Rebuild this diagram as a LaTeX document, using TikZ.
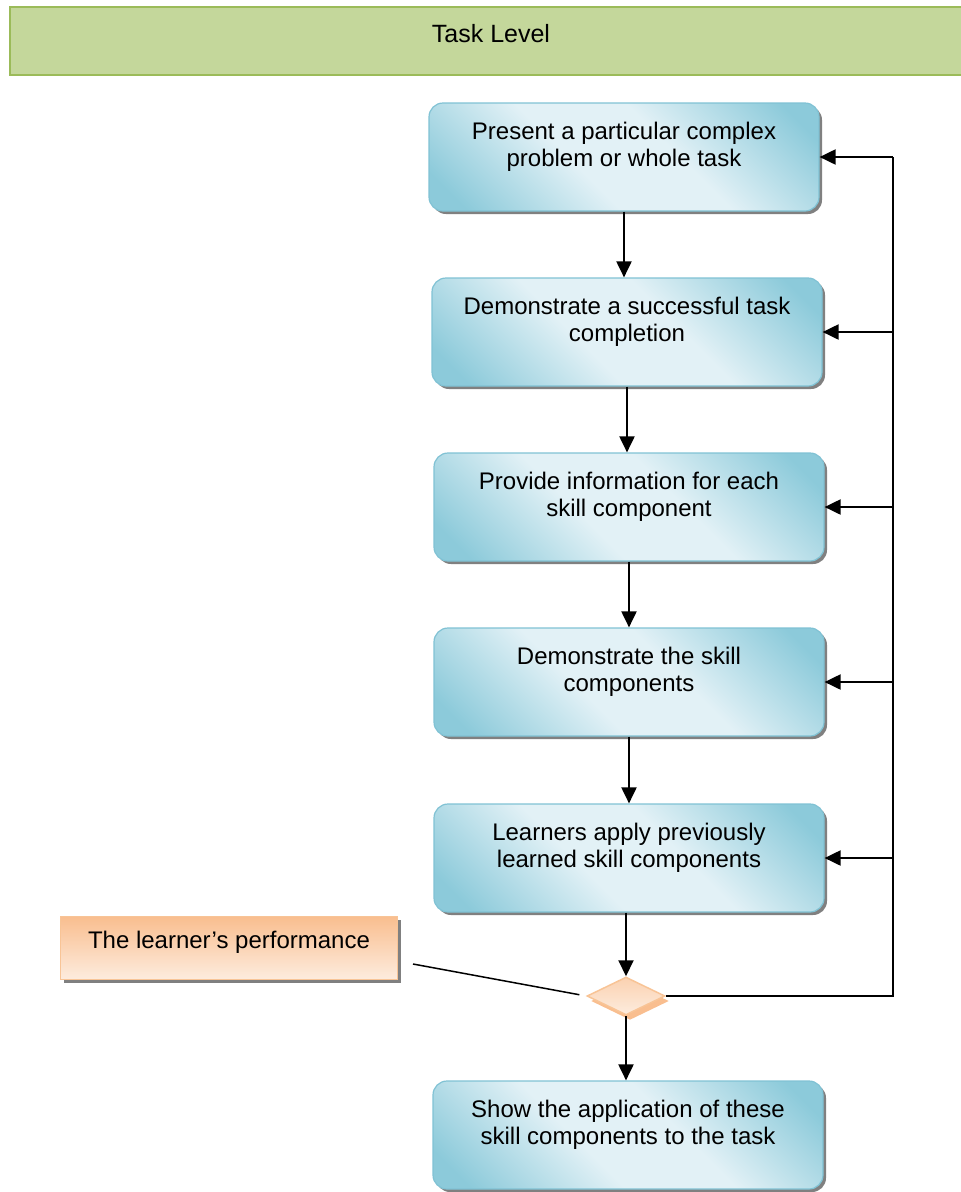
\documentclass[tikz,border=0pt]{standalone}
\usepackage{fontspec}
\setmainfont{Liberation Sans}
\usetikzlibrary{shadows,arrows.meta,shapes.geometric,calc}

\definecolor{bdark}{RGB}{140,202,218}
\definecolor{blight}{RGB}{226,241,246}
\definecolor{bline}{RGB}{128,194,212}
\definecolor{hfill}{RGB}{196,215,155}
\definecolor{hline}{RGB}{155,187,89}
\definecolor{odark}{RGB}{249,190,143}
\definecolor{olight}{RGB}{253,236,222}
\definecolor{oline}{RGB}{248,196,150}

% diagonal band shading for the step boxes: dark corners, light middle
\pgfdeclarehorizontalshading{boxshade}{100bp}{color(0bp)=(bdark); color(20bp)=(bdark);
  color(42bp)=(blight); color(58bp)=(blight); color(80bp)=(bdark); color(100bp)=(bdark)}

\begin{document}
\begin{tikzpicture}[x=1pt,y=-1pt,
  taskbox/.style={draw=bline, line width=1.2pt, rounded corners=14pt,
    minimum width=390pt, minimum height=108pt, inner sep=0pt,
    shading=boxshade, shading angle=45,
    drop shadow={shadow xshift=3pt, shadow yshift=-3pt, fill=black!50, opacity=1}},
  boxtext/.style={align=center, font=\fontsize{24}{27.5}\selectfont, inner sep=0pt},
  arr/.style={line width=2pt, -{Triangle[length=16pt,width=15pt]}},
  link/.style={line width=2pt}]

\useasboundingbox (0,0) rectangle (961,1192);

% header band
\node[draw=hline, fill=hfill, line width=1.5pt, minimum width=1000pt,
      minimum height=68pt, anchor=north west, inner sep=0pt] (hdr) at (9,6) {};
\node[font=\fontsize{25}{28}\selectfont, inner sep=0pt] (hdrtext)
      at ([yshift=7pt]hdr.center -| 491,0) {Task Level};

% process steps
\node[taskbox] (b1) at (624,157) {};
\node[taskbox] (b2) at (627,332) {};
\node[taskbox] (b3) at (629,507) {};
\node[taskbox] (b4) at (629,682) {};
\node[taskbox] (b5) at (629,858) {};
\node[taskbox] (b6) at (628,1135) {};

\node[boxtext] (t1) at ([yshift=10pt]b1.center) {Present a particular complex\\problem or whole task};
\node[boxtext] (t2) at ([yshift=10pt]b2.center) {Demonstrate a successful task\\completion};
\node[boxtext] (t3) at ([yshift=10pt]b3.center) {Provide information for each\\skill component};
\node[boxtext] (t4) at ([yshift=10pt]b4.center) {Demonstrate the skill\\components};
\node[boxtext] (t5) at ([yshift=10pt]b5.center) {Learners apply previously\\learned skill components};
\node[boxtext] (t6) at ([yshift=10pt]b6.center) {Show the application of these\\skill components to the task};

% decision point
\node[diamond, aspect=2, minimum width=78pt, minimum height=38pt, inner sep=0pt,
      draw=oline, line width=1.5pt, top color=odark!70, bottom color=olight,
      drop shadow={shadow xshift=4pt, shadow yshift=-5pt, fill=odark, opacity=1}]
      (dia) at (626,996) {};

% performance box
\node[draw=oline, line width=1.2pt, minimum width=337pt, minimum height=63pt, inner sep=0pt,
      top color=odark, bottom color=olight,
      drop shadow={shadow xshift=3pt, shadow yshift=-3pt, fill=black!50, opacity=1}]
      (perf) at (229,948) {};
\node[boxtext] (perftext) at ([yshift=6pt]perf.center) {The learner’s performance};

% main flow
\draw[arr] (b1.south) -- (b1.south |- b2.north);
\draw[arr] (b2.south) -- (b2.south |- b3.north);
\draw[arr] (b3.south) -- (b3.south |- b4.north);
\draw[arr] (b4.south) -- (b4.south |- b5.north);
\draw[arr] (b5.south -| dia.north) -- (dia.north);
\draw[arr] (dia.south) -- (dia.south |- b6.north);

% feedback loop
\coordinate (fb) at (893,0);
\draw[link] (dia.east) -| (b1.east -| fb);
\draw[arr] (b1.east -| fb) -- (b1.east);
\draw[arr] (b2.east -| fb) -- (b2.east);
\draw[arr] (b3.east -| fb) -- (b3.east);
\draw[arr] (b4.east -| fb) -- (b4.east);
\draw[arr] (b5.east -| fb) -- (b5.east);

% performance link
\coordinate (lnk) at (413,964);
\draw[line width=1.5pt, shorten >=7pt] (lnk) -- (dia.west);
\end{tikzpicture}
\end{document}
